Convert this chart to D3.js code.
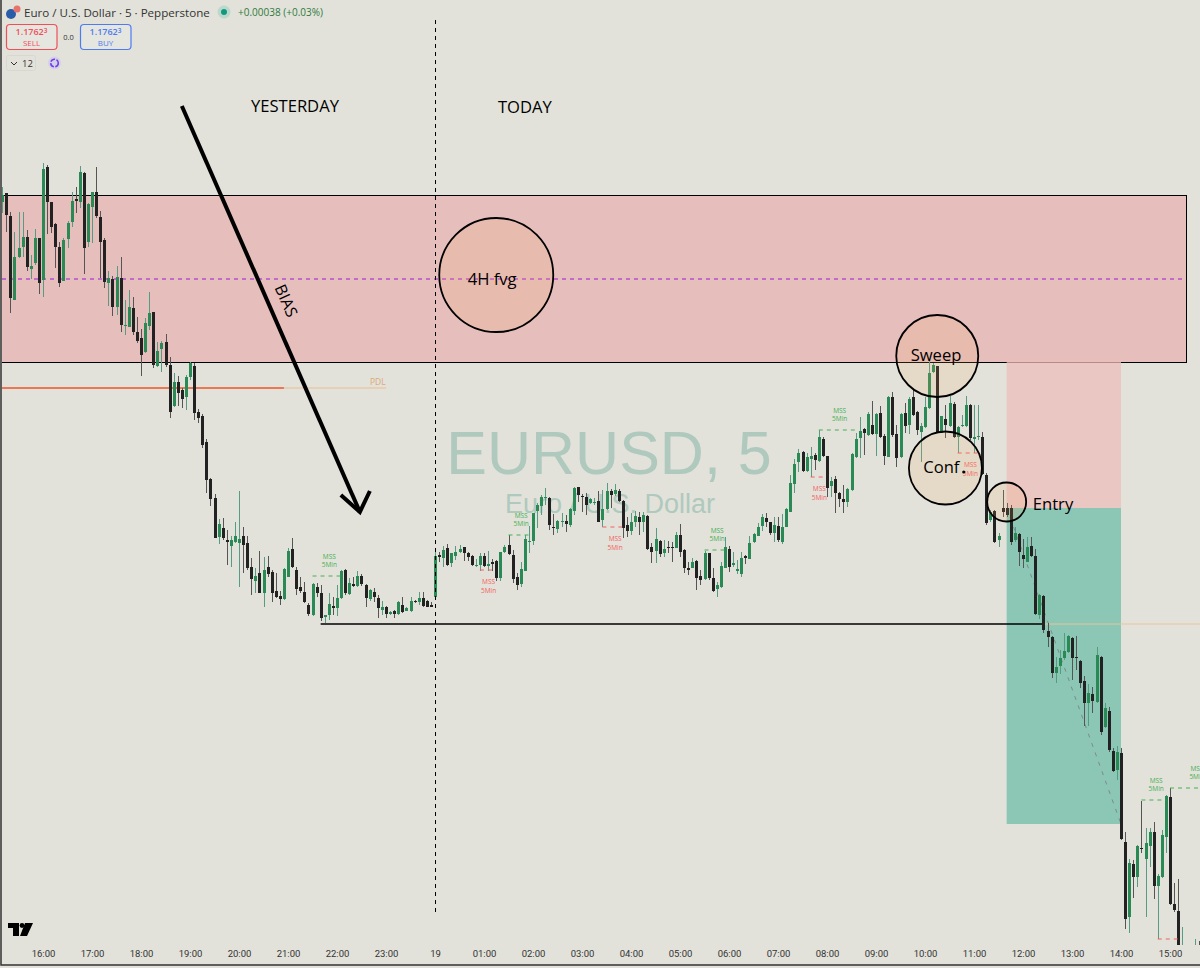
<!DOCTYPE html>
<html>
<head>
<meta charset="utf-8">
<title>EURUSD 5</title>
<script src="https://cdn.jsdelivr.net/npm/d3@7/dist/d3.min.js"></script>
<style>
  html, body { margin: 0; padding: 0; background: #e2e2da; }
  svg { display: block; }
</style>
</head>
<body>
<div class="canvas"></div>
<script>
// prices are points above 1.17568, one row per hour of 5 min candles
const priceBase = 1.17568
const firstCandle = -10

const opens = [
  798,807,784,700,743,753,763,731,737,762,
  720,833,798,776,753,719,761,778,801,798,827,758,
  793,808,783,760,717,721,693,722,674,673,692,668,
  662,648,674,688,634,651,658,635,594,618,610,603,
  623,634,588,584,558,521,502,463,472,460,454,458,
  457,464,457,433,419,427,407,433,428,409,404,401,
  423,451,430,413,408,395,385,413,407,383,385,394,
  392,402,430,406,416,414,424,415,401,408,402,390,
  393,386,389,386,395,389,389,399,398,402,399,395,
  403,445,442,452,437,444,448,453,447,444,434,435,
  444,434,438,439,422,448,455,445,423,416,429,458,
  459,489,494,502,502,473,471,478,479,475,489,513,
  504,503,497,497,499,480,491,509,506,509,499,475,
  469,478,483,478,484,453,449,459,447,453,453,452,
  465,450,432,432,439,424,421,447,422,411,413,432,
  451,435,429,426,444,441,458,464,474,482,478,467,
  474,458,473,488,516,538,548,529,541,545,539,561,
  544,514,521,507,501,498,510,543,562,571,565,575,
  566,587,564,543,603,566,543,587,575,603,588,568,
  573,592,628,634,567,581,574,596,563,574,574,595,
  561,563,563,525,480,489,460,492,492,492,460,466,
  445,438,454,444,385,404,369,363,327,334,342,348,
  362,343,339,319,297,306,298,343,273,289,249,230,
  247,158,83,136,123,152,141,154,168,114,123,163,
  203,96,89,40,35,40,35,50
]
const highs = [
  813,807,788,768,788,788,770,745,771,762,
  837,835,798,777,758,762,779,808,813,834,828,797,
  808,833,789,762,729,724,734,743,700,710,703,683,
  671,682,708,688,658,659,666,643,627,624,612,625,
  638,637,591,586,561,522,506,481,482,470,464,478,
  509,473,464,442,432,449,443,444,430,427,409,432,
  452,462,433,423,418,397,417,417,415,385,407,403,
  415,430,431,422,423,429,426,416,411,412,405,399,
  394,389,390,399,403,393,403,400,408,408,400,398,
  450,448,454,456,447,454,455,453,448,445,441,447,
  447,449,441,440,448,455,465,450,427,438,465,474,
  487,497,505,512,503,486,480,487,485,492,513,513,
  506,507,502,502,509,510,517,511,516,511,500,483,
  487,489,488,488,485,457,472,460,460,459,458,468,
  476,451,438,442,440,430,449,447,432,418,438,463,
  454,448,440,448,445,464,467,477,486,487,478,483,
  483,486,492,525,541,551,549,547,553,547,570,563,
  544,523,524,508,515,512,547,567,583,572,588,599,
  587,594,566,604,608,575,587,597,603,611,589,577,
  603,641,637,634,584,595,604,598,574,585,604,596,
  595,595,568,527,490,490,467,510,497,495,473,467,
  461,463,463,451,406,405,377,364,343,350,367,365,
  363,364,340,324,316,313,353,344,297,293,252,254,
  252,168,141,140,155,199,172,172,178,126,170,205,
  212,117,121,73,50,48,61,59
]
const lows = [
  787,768,687,700,742,743,729,721,735,706,
  703,766,767,732,713,719,752,773,787,792,726,753,
  757,782,722,712,694,684,685,668,665,673,665,657,
  624,647,670,632,633,628,633,582,593,594,592,590,
  620,580,577,552,507,494,462,456,460,435,433,457,
  413,427,430,405,407,407,393,423,398,402,395,400,
  423,432,405,407,397,384,384,403,379,377,380,385,
  384,401,405,405,413,413,414,393,399,398,382,385,
  382,385,382,385,387,389,388,397,395,393,393,393,
  403,438,433,434,433,440,447,439,439,434,433,429,
  433,429,429,419,419,447,445,417,410,413,429,447,
  455,472,485,495,470,465,467,473,468,473,485,498,
  488,485,496,495,478,473,490,492,504,498,462,463,
  465,473,465,468,450,437,437,443,443,447,438,452,
  443,427,425,432,410,415,420,420,408,403,412,432,
  428,433,426,423,436,441,457,464,469,473,465,458,
  458,456,473,488,507,528,528,528,523,530,538,543,
  503,503,487,493,487,493,509,542,542,545,564,565,
  544,562,535,543,563,533,542,567,566,584,565,538,
  572,591,627,567,567,562,573,562,547,573,573,560,
  547,560,525,475,478,457,453,483,483,455,458,434,
  432,438,443,385,381,367,353,322,317,326,340,347,
  320,330,312,274,274,287,297,265,272,248,228,220,
  160,71,67,102,113,147,83,133,101,61,122,147,
  95,88,55,40,30,20,30,30
]
const closes = [
  805,785,702,743,752,763,733,734,762,717,
  831,798,773,753,717,760,777,799,799,828,752,796,
  808,784,758,718,722,693,723,675,675,693,668,659,
  645,677,687,635,649,657,635,588,618,607,601,623,
  637,587,582,555,520,501,462,476,462,458,460,464,
  461,455,432,421,424,407,430,426,407,403,401,431,
  449,433,411,409,398,386,416,407,382,385,396,392,
  402,429,407,417,414,424,416,402,410,403,392,393,
  386,388,386,398,388,392,399,398,402,394,393,393,
  444,443,450,435,447,448,451,447,443,435,435,444,
  434,436,436,422,448,453,446,421,415,431,461,459,
  487,495,503,503,475,472,479,479,476,491,512,505,
  503,495,501,498,478,491,509,505,510,499,472,469,
  478,484,478,485,451,448,461,446,451,452,452,465,
  448,432,430,438,422,420,447,422,409,415,434,453,
  433,437,431,442,442,457,466,473,483,478,467,475,
  460,473,491,517,536,547,529,543,544,540,563,544,
  512,519,507,501,498,511,546,561,569,567,586,566,
  586,563,544,603,565,542,586,574,601,585,570,574,
  593,627,635,567,584,575,597,563,573,575,595,562,
  563,564,526,477,488,458,464,488,485,458,467,448,
  441,453,444,386,405,370,363,327,333,342,349,364,
  342,342,317,297,307,299,345,268,292,250,229,248,
  161,81,137,123,154,151,157,168,114,124,165,204,
  96,90,55,50,45,30,45,40
]
const hourLabels = [
  '16:00','17:00','18:00','19:00','20:00','21:00','22:00','23:00','19',
  '01:00','02:00','03:00','04:00','05:00','06:00','07:00','08:00','09:00',
  '10:00','11:00','12:00','13:00','14:00','15:00'
]

// fair value gap and drawn levels, in the same points
const fvgTop = 805
const fvgMid = 721
const fvgBottom = 638
const pdlLevel = 612
const lowLevel = 376
const entryLevel = 492
const stopLevel = 640
const targetLevel = 176

// market structure breaks: candle range, level and side
const mssFrom = [66, 114, 162, 190, 269, 276, 107, 137, 188, 224, 273]
const mssTo = [73, 119, 167, 199, 275, 288, 110, 142, 191, 229, 278]
const mssLevel = [424, 465, 450, 570, 200, 212, 430, 473, 523, 547, 61]
const mssBull = [true, true, true, true, true, true, false, false, false, false, false]

// circled zones on the chart
const circleIndex = [111, 219, 221, 236]
const circlePrice = [725, 644, 532, 498]
const circleRadius = [57, 41, 36.5, 19.5]

const noteText = ['YESTERDAY', 'TODAY', '4H fvg', 'Sweep', 'Conf', 'Entry']
const noteIndex = [61.7, 118, 110, 218.7, 220, 242.4]
const notePrice = [888, 887, 715, 639, 527, 490]

const width = 1200
const height = 968
const paneBottom = 945
const ink = '#000'

const xScale = d3.scaleLinear().domain([0, 276]).range([43, 1170])
const yScale = d3.scaleLinear().domain([0, 1000]).range([1000, 0])

const svg = d3.select('.canvas')
  .append('svg')
  .attr('width', width)
  .attr('height', height)
  .attr('viewBox', `0 0 ${width} ${height}`)
  .style('font-family', '"Open Sans", sans-serif')

svg.append('rect')
  .attr('width', width)
  .attr('height', height)
  .attr('fill', '#e2e2da')

svg.append('clipPath')
  .attr('id', 'pane')
  .append('rect')
  .attr('x', 2)
  .attr('y', 0)
  .attr('width', width - 2)
  .attr('height', paneBottom)

const pane = svg.append('g').attr('clip-path', 'url(#pane)')

// watermark
pane.append('text')
  .attr('x', 609)
  .attr('y', 474)
  .attr('text-anchor', 'middle')
  .attr('font-family', '"Liberation Sans", Arial, sans-serif')
  .attr('font-size', 61)
  .attr('fill', '#afc9be')
  .text('EURUSD, 5')
pane.append('text')
  .attr('x', 610)
  .attr('y', 513)
  .attr('text-anchor', 'middle')
  .attr('font-family', '"Liberation Sans", Arial, sans-serif')
  .attr('font-size', 27)
  .attr('fill', '#afc9be')
  .text('Euro / U.S. Dollar')

// 4H fvg box
pane.append('rect')
  .attr('x', xScale(-12))
  .attr('y', yScale(fvgTop) + 0.5)
  .attr('width', 1186.5 - xScale(-12))
  .attr('height', yScale(fvgBottom) - yScale(fvgTop))
  .attr('fill', '#e6bfbd')
  .attr('stroke', ink)
pane.append('line')
  .attr('x1', 2)
  .attr('x2', 1186)
  .attr('y1', yScale(fvgMid))
  .attr('y2', yScale(fvgMid))
  .attr('stroke', '#b44fd0')
  .attr('stroke-width', 1.5)
  .attr('stroke-dasharray', '4,4')

// long position box
pane.append('rect')
  .attr('x', xScale(236))
  .attr('y', yScale(stopLevel))
  .attr('width', xScale(264) - xScale(236))
  .attr('height', yScale(entryLevel) - yScale(stopLevel))
  .attr('fill', 'rgb(236,190,185)')
  .attr('fill-opacity', 0.75)
pane.append('rect')
  .attr('x', xScale(236))
  .attr('y', yScale(entryLevel))
  .attr('width', xScale(264) - xScale(236))
  .attr('height', yScale(targetLevel) - yScale(entryLevel))
  .attr('fill', '#8cc6b5')
pane.append('line')
  .attr('x1', xScale(236))
  .attr('x2', xScale(264))
  .attr('y1', yScale(entryLevel))
  .attr('y2', yScale(targetLevel))
  .attr('stroke', '#777')
  .attr('stroke-opacity', 0.75)
  .attr('stroke-dasharray', '4,6')

// levels
const levelLine = (from, to, level, color, strokeWidth) => pane.append('line')
  .attr('x1', xScale(from))
  .attr('x2', xScale(to))
  .attr('y1', yScale(level))
  .attr('y2', yScale(level))
  .attr('stroke', color)
  .attr('stroke-width', strokeWidth)

levelLine(59, 84, pdlLevel, '#e9bd92', 1)
levelLine(-12, 59, pdlLevel, '#ee5524', 1.5)
levelLine(245, 290, lowLevel, '#e9c49b', 1)
levelLine(68, 245, lowLevel, ink, 1.6)
pane.append('text')
  .attr('x', xScale(82))
  .attr('y', yScale(615))
  .attr('text-anchor', 'middle')
  .attr('font-size', 8.5)
  .attr('fill', '#dfa878')
  .text('PDL')

// candles
const candles = opens.map((open, i) => ({
  index: firstCandle + i,
  open,
  high: highs[i],
  low: lows[i],
  close: closes[i],
  up: closes[i] >= open
}))

const candleGroup = pane.append('g')
candleGroup.selectAll('line')
  .data(candles)
  .enter().append('line')
  .attr('x1', d => Math.round(xScale(d.index)) + 0.5)
  .attr('x2', d => Math.round(xScale(d.index)) + 0.5)
  .attr('y1', d => yScale(d.high))
  .attr('y2', d => yScale(d.low))
  .attr('stroke', d => d.up ? '#569c84' : '#555')
candleGroup.selectAll('rect')
  .data(candles)
  .enter().append('rect')
  .attr('x', d => Math.round(xScale(d.index)) - 1)
  .attr('width', 3)
  .attr('y', d => yScale(Math.max(d.open, d.close)))
  .attr('height', d => Math.max(1, Math.abs(d.close - d.open)))
  .attr('fill', d => d.up ? '#2a8a55' : '#222')

// mss breaks
mssFrom.forEach((from, i) => {
  const color = mssBull[i] ? '#45b054' : '#f55f5f'
  const labelX = xScale((from + mssTo[i]) / 2) + 2.5
  const labelY = yScale(mssLevel[i])
  pane.append('line')
    .attr('x1', xScale(from))
    .attr('x2', xScale(mssTo[i]))
    .attr('y1', labelY)
    .attr('y2', labelY)
    .attr('stroke', color)
    .attr('stroke-dasharray', '4,4')
  // the last break sits at the pane bottom and has no visible label
  if (labelY + 24 > paneBottom) return
  ;['MSS', '5Min'].forEach((word, row) => pane.append('text')
    .attr('x', labelX)
    .attr('y', labelY + (mssBull[i] ? -17.5 + row * 8.5 : 14 + row * 8.5))
    .attr('text-anchor', 'middle')
    .attr('font-size', 6.5)
    .attr('fill', color)
    .text(word))
})

// session split
pane.append('line')
  .attr('x1', xScale(96) + 0.5)
  .attr('x2', xScale(96) + 0.5)
  .attr('y1', 20)
  .attr('y2', 915)
  .attr('stroke', ink)
  .attr('stroke-dasharray', '4,4')

// bias arrow
const arrowFrom = [xScale(34), yScale(894)]
const arrowTo = [xScale(77.6), yScale(488)]
pane.append('path')
  .attr('d', d3.line()([arrowFrom, arrowTo]))
  .attr('stroke', ink)
  .attr('stroke-width', 4)
  .attr('fill', 'none')
pane.append('path')
  .attr('d', d3.line()([[arrowTo[0] - 19, arrowTo[1] - 17], arrowTo, [arrowTo[0] + 10, arrowTo[1] - 21]]))
  .attr('stroke', ink)
  .attr('stroke-width', 4)
  .attr('fill', 'none')
pane.append('text')
  .attr('transform', `translate(${xScale(58.3)}, ${yScale(697)}) rotate(66)`)
  .attr('text-anchor', 'middle')
  .attr('font-size', 16)
  .attr('fill', ink)
  .text('BIAS')

// circles
circleIndex.forEach((index, i) => pane.append('circle')
  .attr('cx', xScale(index))
  .attr('cy', yScale(circlePrice[i]))
  .attr('r', circleRadius[i])
  .attr('fill', 'rgb(245,170,100)')
  .attr('fill-opacity', 0.15)
  .attr('stroke', ink)
  .attr('stroke-width', 1.8))
pane.append('circle')
  .attr('cx', xScale(225.5))
  .attr('cy', yScale(528))
  .attr('r', 1.6)
  .attr('fill', ink)

noteText.forEach((text, i) => pane.append('text')
  .attr('x', xScale(noteIndex[i]))
  .attr('y', yScale(notePrice[i]))
  .attr('text-anchor', text === 'Entry' ? 'start' : 'middle')
  .attr('font-size', 16.6)
  .attr('fill', ink)
  .text(text))

// time axis
const xAxis = d3.axisBottom(xScale)
  .tickValues(hourLabels.map((_, i) => i * 12))
  .tickFormat((_, i) => hourLabels[i])
  .tickSize(0)
  .tickPadding(5)
const axisGroup = svg.append('g')
  .attr('transform', `translate(0, ${paneBottom})`)
  .call(xAxis)
axisGroup.select('.domain').remove()
axisGroup.selectAll('text')
  .attr('fill', '#333')
  .attr('font-size', 9.5)
  .attr('font-family', 'Roboto, sans-serif')

// frame
svg.append('path')
  .attr('d', d3.line()([[1, 0], [1, 965], [1200, 965]]))
  .attr('stroke', '#333')
  .attr('stroke-width', 1.5)
  .attr('fill', 'none')

// tradingview logo
svg.append('path')
  .attr('d', 'M8 923 H19 V936 H13 V928 H8 Z M25 923 H33 L27 936 H20 Z')
  .attr('fill', ink)
svg.append('circle')
  .attr('cx', 22)
  .attr('cy', 925.5)
  .attr('r', 2.4)
  .attr('fill', ink)

// legend
const legend = svg.append('g')
legend.append('circle').attr('cx', 11).attr('cy', 14).attr('r', 5).attr('fill', '#2a5da8')
legend.append('circle').attr('cx', 17).attr('cy', 9).attr('r', 3.5).attr('fill', '#e8736a')
legend.append('text')
  .attr('x', 24)
  .attr('y', 17)
  .attr('font-size', 11.6)
  .attr('fill', '#333')
  .text('Euro / U.S. Dollar · 5 · Pepperstone')
legend.append('circle').attr('cx', 224).attr('cy', 12).attr('r', 6.5).attr('fill', '#bcd8cc')
legend.append('circle').attr('cx', 224).attr('cy', 12).attr('r', 3).attr('fill', '#0f9a80')
legend.append('text')
  .attr('x', 238)
  .attr('y', 16)
  .attr('font-size', 10)
  .attr('fill', '#2f7a3c')
  .text('+0.00038 (+0.03%)')

const priceBox = (x, color, label) => {
  legend.append('rect')
    .attr('x', x)
    .attr('y', 24.5)
    .attr('width', 50.5)
    .attr('height', 25)
    .attr('rx', 3.5)
    .attr('fill', '#e6e6e0')
    .attr('stroke', color)
    .attr('stroke-width', 1.2)
  legend.append('text')
    .attr('x', x + 25)
    .attr('y', 35)
    .attr('text-anchor', 'middle')
    .attr('font-size', 9)
    .attr('font-weight', 600)
    .attr('fill', color)
    .text('1.1762')
    .append('tspan')
    .attr('font-size', 6.5)
    .attr('dy', -2)
    .text('3')
  legend.append('text')
    .attr('x', x + 25)
    .attr('y', 46)
    .attr('text-anchor', 'middle')
    .attr('font-size', 8)
    .attr('fill', color)
    .text(label)
}
priceBox(6.5, '#f04f58', 'SELL')
priceBox(80.5, '#4d7cf0', 'BUY')
legend.append('text')
  .attr('x', 68.5)
  .attr('y', 40)
  .attr('text-anchor', 'middle')
  .attr('font-size', 7.5)
  .attr('fill', '#333')
  .text('0.0')

legend.append('rect')
  .attr('x', 6.5)
  .attr('y', 55.5)
  .attr('width', 29)
  .attr('height', 15)
  .attr('rx', 2)
  .attr('fill', 'none')
  .attr('stroke', '#d8d8d0')
legend.append('path')
  .attr('d', d3.line()([[11, 62], [14, 65], [17, 62]]))
  .attr('stroke', '#333')
  .attr('fill', 'none')
legend.append('text')
  .attr('x', 22)
  .attr('y', 67)
  .attr('font-size', 9.5)
  .attr('fill', '#333')
  .text('12')
legend.append('circle').attr('cx', 54.5).attr('cy', 63).attr('r', 6.5).attr('fill', '#d6d0e6')
legend.append('circle')
  .attr('cx', 54.5)
  .attr('cy', 63)
  .attr('r', 3.8)
  .attr('fill', 'none')
  .attr('stroke', '#6a3df0')
  .attr('stroke-width', 1.5)
  .attr('stroke-dasharray', '5,1.5')
</script>
</body>
</html>
